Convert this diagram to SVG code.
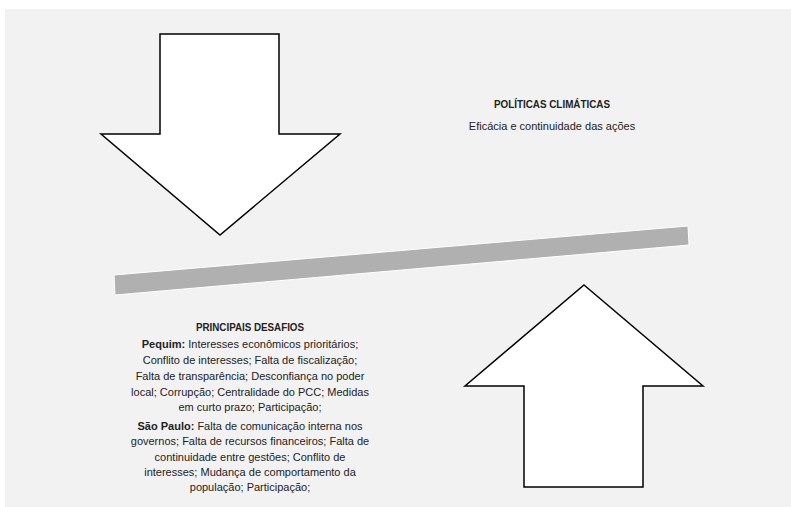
<svg xmlns="http://www.w3.org/2000/svg" width="791" height="507" viewBox="0 0 791 507">
<style>
.arrow{fill:#ffffff;stroke:#000000;stroke-width:1.5;stroke-linejoin:miter}
.bar{fill:#b0b0b0;stroke:#ffffff;stroke-width:1}
text{font-family:"Liberation Sans",Arial,sans-serif;font-size:11px;fill:#222222;text-anchor:middle}
.b{font-weight:bold}
.h{font-weight:bold;font-size:10.8px}
</style>
<rect x="5" y="9" width="786" height="498" fill="#f2f2f2"/>
<g id="down-arrow">
<polygon class="arrow" points="160,34 279,34 279,134 340,134 220,235 101,134 160,134"/>
</g>
<g id="up-arrow">
<polygon class="arrow" points="584,285 703,386 643,386 643,487 524,487 524,386 465,386"/>
</g>
<g id="balance-bar">
<polygon class="bar" points="114,275 688,226 689,245 115,295"/>
</g>
<g id="politicas">
<text class="h" x="552" y="108" textLength="116" lengthAdjust="spacingAndGlyphs">POLÍTICAS CLIMÁTICAS</text>
<text x="552" y="130">Eficácia e continuidade das ações</text>
</g>
<g id="desafios">
<text class="h" x="250" y="331" textLength="108" lengthAdjust="spacingAndGlyphs">PRINCIPAIS DESAFIOS</text>
<text x="250" y="348"><tspan class="b">Pequim:</tspan> Interesses econômicos prioritários;</text>
<text x="250" y="364">Conflito de interesses; Falta de fiscalização;</text>
<text x="250" y="380">Falta de transparência; Desconfiança no poder</text>
<text x="250" y="396">local; Corrupção; Centralidade do PCC; Medidas</text>
<text x="250" y="411">em curto prazo; Participação;</text>
<text x="250" y="430"><tspan class="b">São Paulo:</tspan> Falta de comunicação interna nos</text>
<text x="250" y="445">governos; Falta de recursos financeiros; Falta de</text>
<text x="250" y="461">continuidade entre gestões; Conflito de</text>
<text x="250" y="476">interesses; Mudança de comportamento da</text>
<text x="250" y="491">população; Participação;</text>
</g>
</svg>
